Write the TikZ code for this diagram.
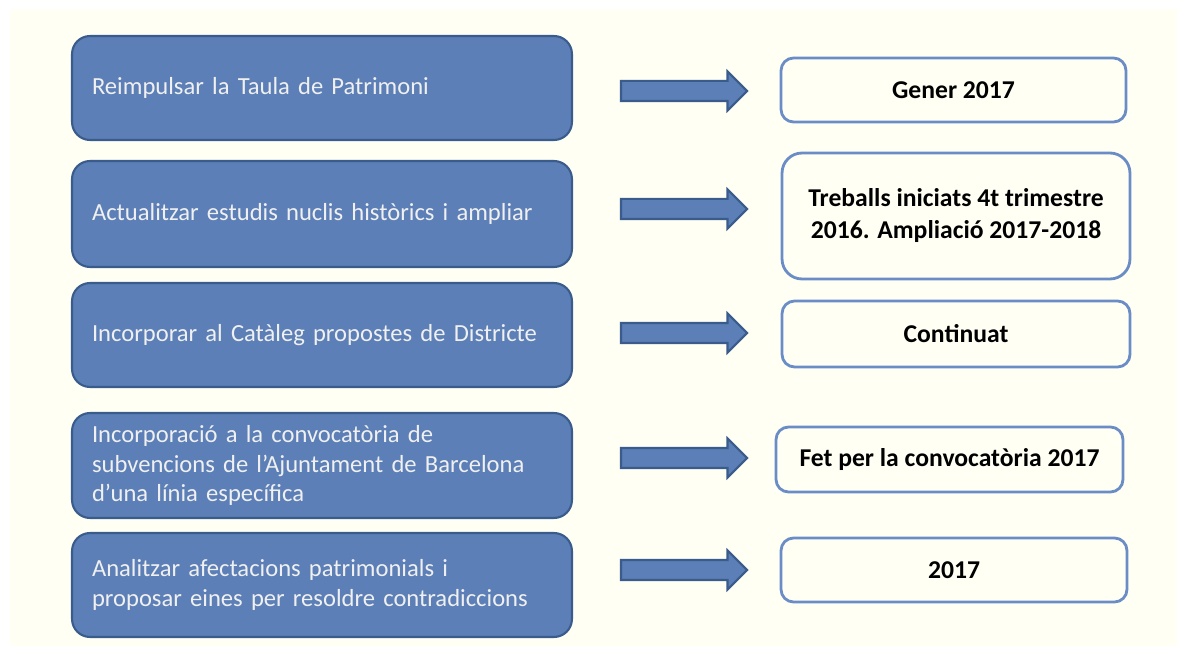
\documentclass[tikz,border=0pt]{standalone}
\usepackage{fontspec}
\setmainfont{Carlito}
\usetikzlibrary{shapes.arrows}
\definecolor{boxblue}{HTML}{5B7FB6}
\definecolor{boxline}{HTML}{3A5C8C}
\definecolor{frameblue}{HTML}{6A8DC6}
\definecolor{paper}{HTML}{FFFFF4}
\tikzset{
  leftbox/.style={draw=boxline, line width=1.2pt, fill=boxblue, rounded corners=0.36cm,
    minimum width=10cm, inner xsep=0.4cm, text width=9.2cm, align=left,
    text=white!94!black, font=\fontsize{14}{17}\selectfont},
  rightbox/.style={draw=frameblue, line width=1.6pt, fill=paper, rounded corners=0.25cm,
    align=center, font=\fontsize{14.6}{18.2}\selectfont\bfseries},
  fatarrow/.style={single arrow, draw=boxline, line width=1.2pt, fill=boxblue,
    inner xsep=0pt, inner ysep=0.18cm, minimum height=2.52cm, single arrow head extend=0.19cm}
}
\begin{document}
\begin{tikzpicture}[x=0.02cm, y=-0.02cm]
\useasboundingbox (0,0) rectangle (1177,648);
\fill[white] (0,0) rectangle (1177,648);
\fill[paper] (10,9) rectangle (1177,646);

% actions
\node[leftbox, minimum height=2.08cm] (t1) at (322,88) {Reimpulsar la Taula de Patrimoni};
\node[leftbox, minimum height=2.12cm] (t2) at (322,214) {Actualitzar estudis nuclis històrics i ampliar};
\node[leftbox, minimum height=2.08cm] (t3) at (322,335) {Incorporar al Catàleg propostes de Districte};
\node[leftbox, minimum height=2.1cm] (t4) at (322,465.5) {Incorporació a la convocatòria de\\subvencions de l’Ajuntament de Barcelona\\d’una línia específica};
\node[leftbox, minimum height=2.08cm] (t5) at (322,585) {Analitzar afectacions patrimonials i\\proposar eines per resoldre contradiccions};

% arrows
\foreach \n/\y in {1/91,2/209,3/333,4/458,5/570}
  \node[fatarrow] (a\n) at (679,\y) {};

% status
\node[rightbox, minimum width=6.9cm, minimum height=1.28cm] (s1) at (953.5,90) {Gener 2017};
\node[rightbox, minimum width=6.96cm, minimum height=2.52cm, rounded corners=0.4cm] (s2) at (956,216) {Treballs iniciats 4t trimestre\\2016. Ampliació 2017-2018};
\node[rightbox, minimum width=6.96cm, minimum height=1.32cm] (s3) at (956,334) {Continuat};
\node[rightbox, minimum width=6.94cm, minimum height=1.3cm] (s4) at (949.5,459.5) {Fet per la convocatòria 2017};
\node[rightbox, minimum width=6.92cm, minimum height=1.28cm] (s5) at (954,570) {2017};
\end{tikzpicture}
\end{document}
